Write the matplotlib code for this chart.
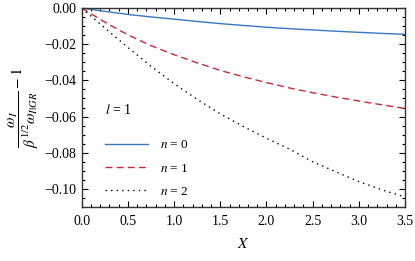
import matplotlib
matplotlib.use("Agg")
import matplotlib.pyplot as plt
from matplotlib.ticker import MultipleLocator, FuncFormatter
import numpy as np

plt.rcParams["font.family"] = "Liberation Serif"
plt.rcParams["mathtext.fontset"] = "stix"
plt.rcParams["font.size"] = 8

# values
X = np.array([0.0, 0.25, 0.5, 0.75, 1.0, 1.25, 1.5, 1.75, 2.0, 2.25, 2.5, 2.75, 3.0, 3.25, 3.5])
n0 = np.array([0.0, -0.0018, -0.0035, -0.0049, -0.0061, -0.0074, -0.0086, -0.0096, -0.0106,
               -0.0114, -0.0121, -0.0128, -0.0134, -0.0140, -0.0145])
n1 = np.array([0.0, -0.0078, -0.0148, -0.0208, -0.0258, -0.0303, -0.0345, -0.0380, -0.0412,
               -0.0442, -0.0468, -0.0492, -0.0514, -0.0535, -0.0555])
n2 = np.array([0.0, -0.0110, -0.0218, -0.0322, -0.0418, -0.0505, -0.0585, -0.0655, -0.0720,
               -0.0780, -0.0850, -0.0905, -0.0960, -0.1005, -0.1045])
labels = [r"$n$ = 0", r"$n$ = 1", r"$n$ = 2"]


def yfmt(v, pos):
    if abs(v) < 1e-9:
        return "0.00"
    return ("\u2212%.2f" % abs(v)) if v < 0 else "%.2f" % v


fig = plt.figure(figsize=(4.15, 2.61), dpi=100)
ax = fig.add_axes([0.197, 0.207, 0.779, 0.762])

ax.plot(X, n0, color="#3a76c6", lw=1.0, label=labels[0])
ax.plot(X, n1, color="#d0263a", lw=1.0, ls=(0, (5, 3)), label=labels[1])
ax.plot(X, n2, color="black", lw=1.0, ls=(0, (1, 3)), label=labels[2])

ax.set_xlim(0, 3.5)
ax.set_ylim(-0.11, 0.0)
ax.xaxis.set_major_locator(MultipleLocator(0.5))
ax.xaxis.set_minor_locator(MultipleLocator(0.1))
ax.yaxis.set_major_locator(MultipleLocator(0.02))
ax.yaxis.set_minor_locator(MultipleLocator(0.005))
ax.xaxis.set_major_formatter(FuncFormatter(lambda v, p: "%.1f" % v))
ax.yaxis.set_major_formatter(FuncFormatter(yfmt))
ax.tick_params(which="both", direction="in", top=True, right=True, labelsize=10, width=0.8)
ax.tick_params(which="major", length=4, pad=4)
ax.tick_params(which="minor", length=2)
ax.tick_params(axis="x", which="major", pad=6)
for s in ax.spines.values():
    s.set_linewidth(1.0)
    s.set_color("#333333")

ax.set_xlabel(r"$X$", fontsize=11, labelpad=6)
ax.set_ylabel(r"$\dfrac{\omega_I}{\beta^{1/2}\omega_{I|GR}} - 1$", fontsize=11, labelpad=2)

leg = ax.legend(loc="lower left", bbox_to_anchor=(0.035, -0.015), frameon=False,
                title=r"$l$ = 1", title_fontsize=10, fontsize=9.5,
                handlelength=3.3, labelspacing=0.85, handletextpad=0.9)
leg._legend_box.align = "left"
leg._legend_box.sep = 16

fig.savefig("out.png", dpi=100)
